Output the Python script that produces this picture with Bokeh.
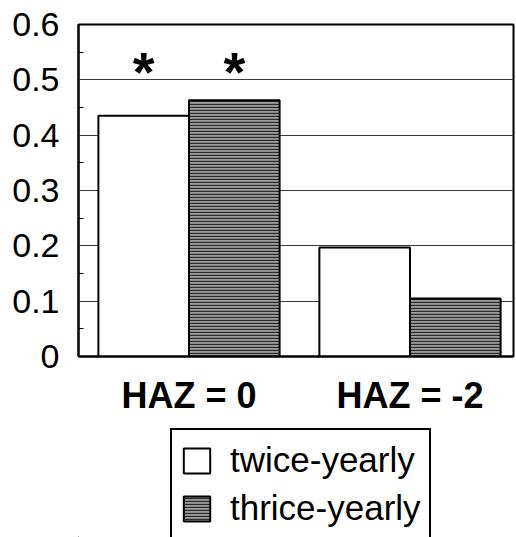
from bokeh.plotting import figure
from bokeh.layouts import column
from bokeh.models import (ColumnDataSource, Range1d, FixedTicker, Legend, LegendItem)
from bokeh.core.properties import value
from bokeh.embed import file_html
from bokeh.resources import INLINE

# ---- data ----
categories = ["HAZ = 0", "HAZ = -2"]
twice_yearly = [0.435, 0.197]
thrice_yearly = [0.463, 0.105]
series_names = ["twice-yearly", "thrice-yearly"]
significant_twice = [True, False]
significant_thrice = [True, False]
y_ticks = [0, 0.1, 0.2, 0.3, 0.4, 0.5, 0.6]
y_tick_labels = ["0", "0.1", "0.2", "0.3", "0.4", "0.5", "0.6"]

FONT = "Liberation Sans"
bar_w = 0.41
offset = 0.205
cat_x = [i + 0.5 for i in range(len(categories))]

twice_style = dict(fill_color="white", line_color="black", line_width=2)
thrice_style = dict(fill_color="#9a9a9a", line_color="black", line_width=2,
                    hatch_pattern="horizontal_line", hatch_color="#2a2a2a",
                    hatch_scale=3, hatch_weight=1.3)

MAIN_H = 428
p = figure(width=516, height=MAIN_H, output_backend="svg", toolbar_location=None,
           x_range=Range1d(0, 435 / 221), y_range=Range1d(0, 0.6),
           min_border_left=78, min_border_right=3, min_border_top=24,
           min_border_bottom=MAIN_H - 24 - 332)
p.background_fill_color = "white"
p.border_fill_color = "white"
p.outline_line_color = "black"
p.outline_line_width = 2

src_t = ColumnDataSource(dict(x=[c - offset for c in cat_x], top=twice_yearly))
src_h = ColumnDataSource(dict(x=[c + offset for c in cat_x], top=thrice_yearly))

p.vbar(x="x", top="top", width=bar_w, bottom=0, source=src_t, **twice_style)
p.vbar(x="x", top="top", width=bar_w, bottom=0, source=src_h, **thrice_style)

# significance stars
sx, sy, st = [], [], []
for i, c in enumerate(cat_x):
    if significant_twice[i]:
        sx.append(c - offset); sy.append(0.52); st.append("*")
    if significant_thrice[i]:
        sx.append(c + offset); sy.append(0.52); st.append("*")
p.text(x=sx, y=sy, text=st, text_font=value(FONT), text_font_style="bold",
       text_font_size="56px", text_align="center", text_baseline="middle",
       text_color="black", y_offset=3)

# axes
p.yaxis.ticker = FixedTicker(ticks=y_ticks, minor_ticks=[0.05, 0.15, 0.25, 0.35, 0.45, 0.55])
p.yaxis.major_label_overrides = {t: l for t, l in zip(y_ticks, y_tick_labels)}
p.yaxis.major_label_text_font = FONT
p.yaxis.major_label_text_font_size = "34px"
p.yaxis.major_label_text_color = "black"
p.yaxis.major_label_standoff = 19
p.yaxis.axis_line_color = "black"
p.yaxis.axis_line_width = 2
p.yaxis.major_tick_in = 0
p.yaxis.major_tick_out = 0
p.yaxis.minor_tick_in = 5
p.yaxis.minor_tick_out = 0
p.yaxis.minor_tick_line_color = "black"

p.xaxis.ticker = FixedTicker(ticks=cat_x)
p.xaxis.major_label_overrides = {c: n for c, n in zip(cat_x, categories)}
p.xaxis.major_label_text_font = FONT
p.xaxis.major_label_text_font_style = "bold"
p.xaxis.major_label_text_font_size = "36px"
p.xaxis.major_label_text_color = "black"
p.xaxis.major_label_standoff = 18
p.xaxis.axis_line_color = "black"
p.xaxis.axis_line_width = 2
p.xaxis.major_tick_in = 0
p.xaxis.major_tick_out = 0
p.xaxis.minor_tick_line_color = None

p.xgrid.grid_line_color = None
p.ygrid.ticker = FixedTicker(ticks=y_ticks)
p.ygrid.grid_line_color = "#3a3a3a"
p.ygrid.grid_line_width = 1

# ---- legend strip (cut off at the bottom, as in the original) ----
LEG_H = 537 - MAIN_H
p2 = figure(width=516, height=LEG_H, output_backend="svg", toolbar_location=None,
            x_range=Range1d(0, 1), y_range=Range1d(0, 1),
            x_axis_type=None, y_axis_type=None,
            min_border_left=0, min_border_right=0, min_border_top=0, min_border_bottom=0)
p2.outline_line_color = None
p2.xgrid.grid_line_color = None
p2.ygrid.grid_line_color = None
p2.background_fill_color = "white"
p2.border_fill_color = "white"
# proxy renderers (entirely outside the visible range) that only feed the legend swatches
lr1 = p2.vbar(x=[-10], top=[-5], bottom=[-6], width=0.1, **twice_style)
lr2 = p2.vbar(x=[-10], top=[-5], bottom=[-6], width=0.1, **thrice_style)

ROW_H, GAP, PAD = 44, 4, 8
legend_h = PAD + ROW_H + GAP + ROW_H + PAD
legend_top = 432 - MAIN_H  # px below the top of the strip
legend = Legend(items=[LegendItem(label=series_names[0], renderers=[lr1]),
                       LegendItem(label=series_names[1], renderers=[lr2])],
                location=(170 - 78, LEG_H - legend_h - legend_top), orientation="vertical",
                label_text_font=FONT, label_text_font_size="35px",
                label_text_color="black", label_height=ROW_H, glyph_height=31,
                glyph_width=33, label_standoff=17, spacing=GAP, padding=PAD, margin=0,
                border_line_color="black", border_line_width=2, border_line_alpha=1,
                background_fill_color="white", background_fill_alpha=1)
p2.add_layout(legend, "center")

layout = column(p, p2, spacing=0)
open("out.html", "w").write(file_html(layout, INLINE))
